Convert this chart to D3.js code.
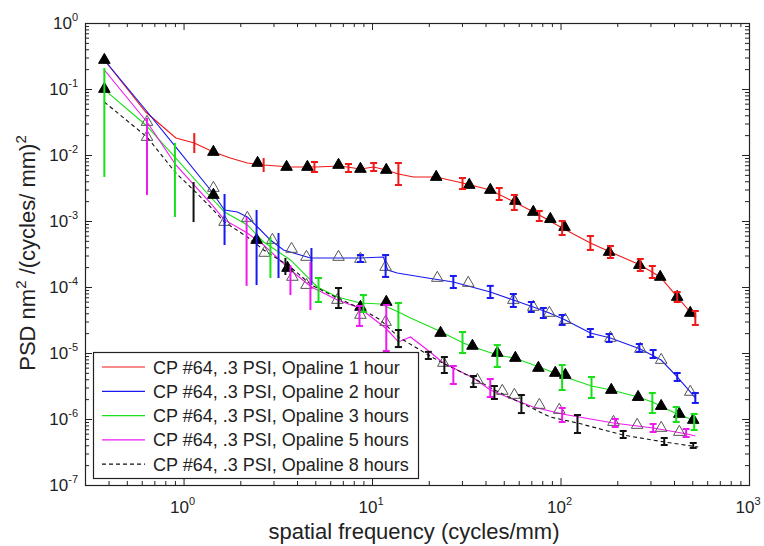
<!DOCTYPE html>
<html>
<head>
<meta charset="utf-8">
<script src="https://cdn.jsdelivr.net/npm/d3@7"></script>
<style>
body{margin:0;background:#fff;}
text{font-family:"Liberation Sans",Arial,sans-serif;fill:#222;}
</style>
</head>
<body>
<div id="graph1"></div>
<script>
// series 1 : Opaline 1 hour (red)
var freq1 = [0.38,0.63,0.91,1.14,1.44,1.77,2.18,2.66,3.69,5.01,6.80,8.68,10.2,11.9,13.8,16.6,21.9,30.2,42.4,56.9,77.2,102,144,184,265,338,416,519]
var psd1 = [0.275,4.48e-2,1.81e-2,1.52e-2,1.11e-2,9.0e-3,7.57e-3,7.06e-3,6.58e-3,6.58e-3,6.81e-3,6.14e-3,6.58e-3,5.93e-3,5.15e-3,4.64e-3,4.64e-3,3.77e-3,2.95e-3,1.94e-3,1.23e-3,7.83e-4,4.64e-4,3.39e-4,2.15e-4,1.42e-4,7.06e-5,3.39e-5]
var errX1 = [1.14,2.66,4.95,7.50,10.2,13.8,30.2,47.3,56.9,77.2,102,144,184,265,307,416,519]
var errHi1 = [2.15e-2,9.0e-3,7.83e-3,7.31e-3,7.57e-3,7.57e-3,4.48e-3,3.16e-3,2.48e-3,1.42e-3,1.0e-3,5.93e-4,4.18e-4,2.66e-4,2.08e-4,8.40e-5,4.33e-5]
var errLo1 = [1.07e-2,5.53e-3,5.53e-3,5.53e-3,5.72e-3,3.51e-3,3.05e-3,2.08e-3,1.47e-3,1.0e-3,6.14e-4,3.64e-4,2.75e-4,1.75e-4,1.37e-4,5.93e-5,2.66e-5]
var triX1 = [0.38,1.44,2.47,3.52,4.54,6.64,8.68,11.9,21.9,32.8,42.4,57.6,71.7,88.3,105,181,262,338,416,488]
var triY1 = [0.275,1.11e-2,7.57e-3,6.58e-3,6.58e-3,7.06e-3,6.14e-3,5.93e-3,4.64e-3,3.51e-3,2.95e-3,2.01e-3,1.37e-3,1.07e-3,8.11e-4,3.39e-4,2.15e-4,1.42e-4,7.06e-5,4.04e-5]

// series 2 : Opaline 2 hour (blue)
var freq2 = [0.38,0.63,0.91,1.39,1.65,1.93,2.18,2.47,2.89,3.39,4.71,6.55,8.68,11.5,12.1,13.6,19.7,27.0,42.4,56.2,71.7,87.3,106,144,184,265,342,416,488,519]
var psd2 = [0.275,4.81e-2,1.32e-2,2.95e-3,1.47e-3,1.37e-3,1.15e-3,8.11e-4,5.15e-4,3.64e-4,2.75e-4,2.75e-4,2.75e-4,2.85e-4,1.81e-4,1.63e-4,1.37e-4,1.19e-4,8.40e-5,6.35e-5,4.98e-5,4.04e-5,3.16e-5,2.01e-5,1.69e-5,1.15e-5,7.83e-6,4.33e-6,2.57e-6,2.08e-6]
var errX2 = [1.65,2.44,3.19,4.77,8.68,11.8,27.0,42.4,56.2,70.0,81.1,102,144,181,262,310,416,519]
var errHi2 = [2.57e-3,1.47e-3,6.58e-4,3.90e-4,3.05e-4,3.05e-4,1.47e-4,1.04e-4,7.83e-5,5.93e-5,4.81e-5,3.77e-5,2.31e-5,1.94e-5,1.37e-5,1.11e-5,4.98e-6,2.48e-6]
var errLo2 = [4.33e-4,1.07e-4,1.37e-4,1.07e-4,2.39e-4,1.42e-4,9.66e-5,6.81e-5,4.98e-5,4.18e-5,3.39e-5,2.66e-5,1.75e-5,1.47e-5,1.04e-5,8.40e-6,3.77e-6,1.75e-6]
var triX2 = [0.64,1.44,2.18,2.96,3.74,4.49,6.64,8.68,11.8,22.2,32.4,56.2,71.7,87.3,106,184,265,342,488]
var triY2 = [3.16e-2,3.16e-3,1.11e-3,5.15e-4,3.77e-4,2.85e-4,2.85e-4,2.66e-4,2.01e-4,1.37e-4,1.15e-4,6.35e-5,4.98e-5,4.04e-5,3.16e-5,1.69e-5,1.15e-5,7.83e-6,2.57e-6]

// series 3 : Opaline 3 hours (green)
var freq3 = [0.38,0.63,0.91,1.39,1.65,2.18,2.66,3.69,5.13,6.55,8.68,11.1,13.8,16.0,22.2,30.5,34.5,46.2,56.9,77.2,102,146,186,258,307,347,416,506,531]
var psd3 = [9.8e-2,2.85e-2,9.0e-3,2.31e-3,1.37e-3,8.70e-4,4.81e-4,2.57e-4,1.0e-4,7.06e-5,5.72e-5,5.53e-5,4.18e-5,3.39e-5,2.23e-5,1.42e-5,1.23e-5,9.33e-6,8.40e-6,6.14e-6,4.48e-6,3.16e-6,2.75e-6,2.15e-6,1.81e-6,1.52e-6,1.19e-6,9.66e-7,8.40e-7]
var errX3 = [0.38,0.90,2.89,5.20,9.00,13.8,30.2,46.2,102,146,307,411,512]
var errHi3 = [0.208,1.52e-2,5.72e-4,1.37e-4,7.57e-5,5.72e-5,2.08e-5,1.32e-5,6.58e-6,4.33e-6,2.48e-6,1.52e-6,1.19e-6]
var errLo3 = [4.64e-3,1.15e-3,1.37e-4,5.93e-5,4.18e-5,1.23e-5,1.0e-5,6.14e-6,2.75e-6,2.08e-6,1.23e-6,9.0e-7,6.81e-7]
var triX3 = [0.38,1.44,2.44,3.56,8.68,11.9,23.1,34.1,46.2,57.6,76.3,93.8,106,186,258,342,427,506]
var triY3 = [0.1,2.48e-3,5.15e-4,1.94e-4,4.98e-5,5.93e-5,2.01e-5,1.28e-5,1.0e-5,8.40e-6,5.93e-6,4.98e-6,4.64e-6,2.75e-6,2.15e-6,1.57e-6,1.19e-6,9.66e-7]

// series 4 : Opaline 5 hours (magenta)
var freq4 = [0.38,0.64,0.91,1.39,1.65,2.18,2.66,3.69,4.77,6.55,8.58,11.8,13.8,16.0,19.7,23.9,27.0,34.5,42.4,52.2,71.7,102,191,310,470,519]
var psd4 = [0.194,3.16e-2,7.06e-3,1.87e-3,1.04e-3,6.58e-4,4.33e-4,1.81e-4,1.0e-4,6.35e-5,4.81e-5,2.39e-5,1.47e-5,1.75e-5,1.11e-5,7.06e-6,5.93e-6,4.18e-6,2.75e-6,2.15e-6,1.52e-6,1.19e-6,8.70e-7,7.31e-7,5.93e-7,5.53e-7]
var errX4 = [0.64,2.16,3.69,4.71,8.58,11.9,27.0,42.4,102,195,310,464]
var errHi4 = [3.64e-2,1.15e-3,2.15e-4,2.39e-4,5.15e-5,5.34e-5,6.35e-6,4.04e-6,1.47e-6,1.0e-6,8.40e-7,7.06e-7]
var errLo4 = [2.48e-3,1.04e-4,7.57e-5,4.48e-5,2.57e-5,1.07e-5,3.39e-6,2.15e-6,9.0e-7,7.57e-7,6.35e-7,5.34e-7]
var triX4 = [0.64,1.65,2.69,3.78,4.49,6.55,8.68,11.8,23.9,36.2,49.1,56.9,77.2,98.5,191,255,342,427]
var triY4 = [1.87e-2,9.66e-4,3.28e-4,1.42e-4,1.07e-4,6.35e-5,3.77e-5,2.95e-5,7.06e-6,3.90e-6,2.66e-6,2.31e-6,1.63e-6,1.37e-6,9.0e-7,8.11e-7,7.31e-7,6.35e-7]

// series 5 : Opaline 8 hours (black dashed)
var freq5 = [0.38,0.64,0.91,1.13,1.39,1.65,2.18,2.66,3.69,4.77,6.55,8.58,11.1,13.8,19.9,24.2,34.5,44.6,62.0,88.3,123,215,355,538]
var psd5 = [6.35e-2,1.87e-2,5.34e-3,2.95e-3,1.63e-3,9.66e-4,5.72e-4,3.64e-4,2.01e-4,1.07e-4,6.81e-5,4.81e-5,3.16e-5,1.75e-5,9.33e-6,6.81e-6,4.18e-6,2.75e-6,1.75e-6,1.07e-6,8.70e-7,5.72e-7,4.48e-7,3.77e-7]
var errX5 = [1.13,3.47,6.64,13.8,19.9,24.2,34.5,44.6,62.0,123,215,355,506]
var errHi5 = [3.90e-3,2.75e-4,9.66e-5,2.23e-5,1.04e-5,8.70e-6,4.48e-6,3.16e-6,2.31e-6,1.15e-6,6.58e-7,5.15e-7,4.33e-7]
var errLo5 = [9.66e-4,1.52e-4,4.81e-5,1.23e-5,8.11e-6,4.98e-6,3.05e-6,2.01e-6,1.23e-6,6.14e-7,5.15e-7,4.04e-7,3.64e-7]

var names = ["CP #64, .3 PSI, Opaline 1 hour","CP #64, .3 PSI, Opaline 2 hour","CP #64, .3 PSI, Opaline 3 hours","CP #64, .3 PSI, Opaline 5 hours","CP #64, .3 PSI, Opaline 8 hours"]
var colors = ["#f01818","#1818f0","#18e018","#f018f0","#111111"]
var xTickExp = [0,1,2,3]
var yTickExp = [0,-1,-2,-3,-4,-5,-6,-7]

var series = [
  {f:freq1,p:psd1,ex:errX1,hi:errHi1,lo:errLo1,tx:triX1,ty:triY1,filled:true},
  {f:freq2,p:psd2,ex:errX2,hi:errHi2,lo:errLo2,tx:triX2,ty:triY2,filled:false},
  {f:freq3,p:psd3,ex:errX3,hi:errHi3,lo:errLo3,tx:triX3,ty:triY3,filled:true},
  {f:freq4,p:psd4,ex:errX4,hi:errHi4,lo:errLo4,tx:triX4,ty:triY4,filled:false},
  {f:freq5,p:psd5,ex:errX5,hi:errHi5,lo:errLo5,tx:[],ty:[],filled:false}
]

var pl = 85, pr = 749, pt = 23, pb = 485

var xscale = d3.scaleLog().domain([0.3,1000]).range([pl,pr])
var yscale = d3.scaleLog().domain([1e-7,1]).range([pb,pt])

var svg = d3.select("#graph1").append("svg")
  .attr("width",764).attr("height",546)

// minor / major tick positions
var xMajor = xTickExp.map(function(e){return Math.pow(10,e)})
var yMajor = yTickExp.map(function(e){return Math.pow(10,e)})
var xMinor = [], yMinor = []
for(var k=-1;k<3;k++){ for(var m=2;m<10;m++){ var v=m*Math.pow(10,k); if(v>=0.3) xMinor.push(v) } }
for(var k=-7;k<0;k++){ for(var m=2;m<10;m++){ yMinor.push(m*Math.pow(10,k)) } }

function ticks(axis, vals, size, tr){
  var g = svg.append("g").attr("transform",tr)
    .call(axis.tickValues(vals).tickFormat("").tickSizeInner(size).tickSizeOuter(0))
  g.select(".domain").remove()
  g.selectAll("line").attr("stroke","#222")
}
ticks(d3.axisBottom(xscale), xMajor, -7, "translate(0,"+pb+")")
ticks(d3.axisBottom(xscale), xMinor, -4, "translate(0,"+pb+")")
ticks(d3.axisTop(xscale), xMajor, -7, "translate(0,"+pt+")")
ticks(d3.axisTop(xscale), xMinor, -4, "translate(0,"+pt+")")
ticks(d3.axisLeft(yscale), yMajor, -7, "translate("+pl+",0)")
ticks(d3.axisLeft(yscale), yMinor, -4, "translate("+pl+",0)")
ticks(d3.axisRight(yscale), yMajor, -7, "translate("+pr+",0)")
ticks(d3.axisRight(yscale), yMinor, -4, "translate("+pr+",0)")

svg.append("rect")
  .attr("x",pl+0.5).attr("y",pt+0.5)
  .attr("width",pr-pl).attr("height",pb-pt)
  .attr("fill","none").attr("stroke","#222").attr("stroke-width",1.2)

// tick labels 10^n
svg.selectAll(".xlab").data(xTickExp).enter().append("text")
  .attr("x",function(d){return xscale(Math.pow(10,d))-1})
  .attr("y",513).attr("text-anchor","middle").attr("font-size",17)
  .each(function(d){
    var t=d3.select(this)
    t.append("tspan").text("10")
    t.append("tspan").attr("dy",-8).attr("font-size",11).text(d)
  })
svg.selectAll(".ylab").data(yTickExp).enter().append("text")
  .attr("x",78)
  .attr("y",function(d){return yscale(Math.pow(10,d))+6})
  .attr("text-anchor","end").attr("font-size",17)
  .each(function(d){
    var t=d3.select(this)
    t.append("tspan").text("10")
    t.append("tspan").attr("dy",-8).attr("font-size",11).text(d)
  })

svg.append("text")
  .attr("x",414).attr("y",539).attr("text-anchor","middle").attr("font-size",22)
  .text("spatial frequency (cycles/mm)")

var yt = svg.append("text")
  .attr("transform","translate(35,253) rotate(-90)")
  .attr("text-anchor","middle").attr("font-size",22)
yt.append("tspan").text("PSD nm")
yt.append("tspan").attr("dy",-9).attr("font-size",15).text("2")
yt.append("tspan").attr("dy",9).text(" /(cycles/ mm)")
yt.append("tspan").attr("dy",-9).attr("font-size",15).text("2")

var line = d3.line()
  .x(function(d){return xscale(d[0])})
  .y(function(d){return yscale(d[1])})

var tri = d3.symbol().type(d3.symbolTriangle).size(58)

series.forEach(function(s,i){
  var pts = s.f.map(function(v,j){return [v,s.p[j]]})
  svg.append("path").datum(pts)
    .attr("d",line)
    .attr("fill","none")
    .attr("stroke",colors[i])
    .attr("stroke-width",1.1)
    .attr("stroke-dasharray", i==4 ? "4,3" : null)
})

series.forEach(function(s,i){
  var marks = s.tx.map(function(v,j){return [v,s.ty[j]]})
  svg.selectAll(".tri"+i).data(marks).enter().append("path")
    .attr("d",tri)
    .attr("transform",function(d){return "translate("+xscale(d[0])+","+yscale(d[1])+")"})
    .attr("fill", s.filled ? "#000" : "none")
    .attr("stroke", s.filled ? "#000" : "#555")
    .attr("stroke-width",1)
})

series.forEach(function(s,i){
  var bars = s.ex.map(function(v,j){return {x:v,hi:s.hi[j],lo:s.lo[j]}})
  var g = svg.append("g").attr("stroke",colors[i]).attr("stroke-width",2)
  g.selectAll(".bar").data(bars).enter().append("line")
    .attr("x1",function(d){return xscale(d.x)}).attr("x2",function(d){return xscale(d.x)})
    .attr("y1",function(d){return yscale(d.hi)}).attr("y2",function(d){return yscale(d.lo)})
  var capped = bars.filter(function(d){return d.x>=4.9})
  g.selectAll(".caphi").data(capped).enter().append("line")
    .attr("x1",function(d){return xscale(d.x)-3.5}).attr("x2",function(d){return xscale(d.x)+3.5})
    .attr("y1",function(d){return yscale(d.hi)}).attr("y2",function(d){return yscale(d.hi)})
  g.selectAll(".caplo").data(capped).enter().append("line")
    .attr("x1",function(d){return xscale(d.x)-3.5}).attr("x2",function(d){return xscale(d.x)+3.5})
    .attr("y1",function(d){return yscale(d.lo)}).attr("y2",function(d){return yscale(d.lo)})
})

// legend
var lg = svg.append("g")
lg.append("rect").attr("x",93.5).attr("y",352.5).attr("width",325).attr("height",126)
  .attr("fill","#fff").attr("stroke","#222").attr("stroke-width",1.2)
names.forEach(function(n,i){
  var yy = 367 + i*24.3
  lg.append("line").attr("x1",102).attr("x2",145).attr("y1",yy).attr("y2",yy)
    .attr("stroke",colors[i]).attr("stroke-width",1.2)
    .attr("stroke-dasharray", i==4 ? "4,3" : null)
  lg.append("text").attr("x",153).attr("y",yy+6.5).attr("font-size",18).text(n)
})
</script>
</body>
</html>
